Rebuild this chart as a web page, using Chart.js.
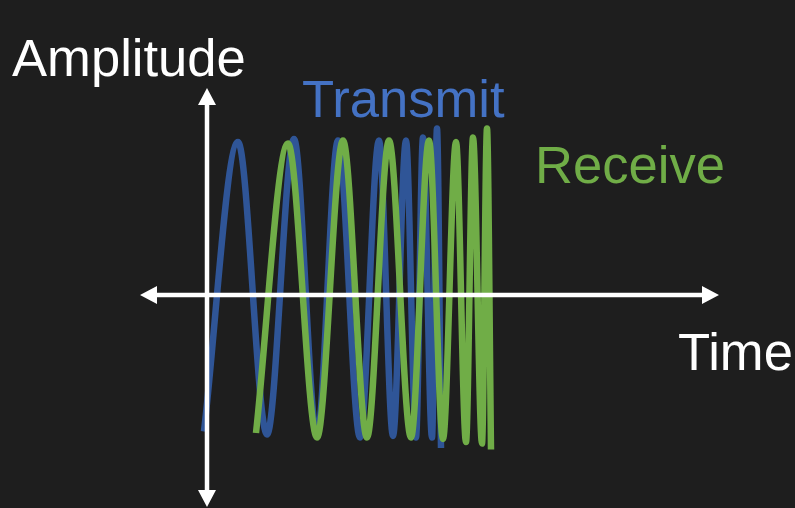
<!DOCTYPE html>
<html>
<head>
<meta charset="utf-8">
<script src="https://cdn.jsdelivr.net/npm/chart.js@4/dist/chart.umd.min.js"></script>
<style>
  html, body { margin: 0; padding: 0; background: #1e1e1e; }
  #wrap { width: 795px; height: 508px; position: relative; }
  canvas { display: block; }
</style>
</head>
<body>
<div id="wrap"><canvas id="c" width="795" height="508"></canvas></div>
<script>
// ---- Data (time in arbitrary units, amplitude normalised) ----
const transmitTime = [-0.3, 3.1, 6.0, 8.7, 11.0, 13.1, 15.3, 17.2, 18.6, 19.9, 20.9, 21.6, 22.5, 23.0, 23.4];
const transmitAmp  = [-0.91, 1.02, -0.93, 1.04, -0.94, 1.03, -0.95, 1.03, -0.94, 1.03, -0.95, 1.05, -0.95, 1.11, -1.02];

const receiveTime = [4.9, 8.1, 11.0, 13.6, 16.0, 18.2, 20.4, 22.2, 23.6, 24.9, 25.9, 26.6, 27.5, 28.0, 28.4];
const receiveAmp  = [-0.92, 1.01, -0.95, 1.03, -0.95, 1.03, -0.95, 1.03, -0.96, 1.02, -0.98, 1.05, -0.99, 1.11, -1.03];

// axis extents (data units)
const timeAxisRange = [-6.7, 51.2];
const ampAxisRange  = [-1.413, 1.38];

// labels
const labels = [
  { text: 'Amplitude', t: -19.5, a: 1.46,  color: '#ffffff' },
  { text: 'Transmit',  t: 9.5,   a: 1.187, color: '#4472c4' },
  { text: 'Receive',   t: 32.8,  a: 0.747, color: '#70ad47' },
  { text: 'Time',      t: 47.1,  a: -0.5,  color: '#ffffff' }
];

const toPts = (xs, ys) => xs.map((x, i) => ({ x: x, y: ys[i] }));

const axesPlugin = {
  id: 'axesArrows',
  afterDatasetsDraw(chart) {
    const ctx = chart.ctx;
    const xs = chart.scales.x, ys = chart.scales.y;
    const y0 = ys.getPixelForValue(0);
    const x0 = xs.getPixelForValue(0);
    const xl = xs.getPixelForValue(timeAxisRange[0]);
    const xr = xs.getPixelForValue(timeAxisRange[1]);
    const yt = ys.getPixelForValue(ampAxisRange[1]);
    const yb = ys.getPixelForValue(ampAxisRange[0]);
    const L = 17, H = 9;
    ctx.save();
    ctx.strokeStyle = '#ffffff';
    ctx.fillStyle = '#ffffff';
    ctx.lineWidth = 4.5;
    ctx.beginPath();
    ctx.moveTo(xl + L - 2, y0); ctx.lineTo(xr - L + 2, y0);
    ctx.moveTo(x0, yt + L - 2); ctx.lineTo(x0, yb - L + 2);
    ctx.stroke();
    // arrow heads
    ctx.beginPath();
    ctx.moveTo(xl, y0); ctx.lineTo(xl + L, y0 - H); ctx.lineTo(xl + L, y0 + H); ctx.closePath();
    ctx.moveTo(xr, y0); ctx.lineTo(xr - L, y0 - H); ctx.lineTo(xr - L, y0 + H); ctx.closePath();
    ctx.moveTo(x0, yt); ctx.lineTo(x0 - H, yt + L); ctx.lineTo(x0 + H, yt + L); ctx.closePath();
    ctx.moveTo(x0, yb); ctx.lineTo(x0 - H, yb - L); ctx.lineTo(x0 + H, yb - L); ctx.closePath();
    ctx.fill();
    // text labels
    ctx.font = '52.6px "Liberation Sans", Arial, sans-serif';
    ctx.textBaseline = 'alphabetic';
    ctx.textAlign = 'left';
    labels.forEach(l => {
      ctx.fillStyle = l.color;
      ctx.fillText(l.text, xs.getPixelForValue(l.t), ys.getPixelForValue(l.a));
    });
    ctx.restore();
  }
};

new Chart(document.getElementById('c'), {
  type: 'line',
  data: {
    datasets: [
      {
        label: 'Receive',
        data: toPts(receiveTime, receiveAmp),
        borderColor: '#70ad47',
        borderWidth: 6.5,
        pointRadius: 0,
        cubicInterpolationMode: 'monotone',
        borderCapStyle: 'butt',
        order: 0
      },
      {
        label: 'Transmit',
        data: toPts(transmitTime, transmitAmp),
        borderColor: '#2f5597',
        borderWidth: 6.5,
        pointRadius: 0,
        cubicInterpolationMode: 'monotone',
        borderCapStyle: 'butt',
        order: 1
      }
    ]
  },
  options: {
    responsive: false,
    animation: false,
    devicePixelRatio: 1,
    layout: { padding: 0 },
    plugins: { legend: { display: false }, tooltip: { enabled: false }, title: { display: false } },
    scales: {
      x: { type: 'linear', display: false, min: -20.7, max: 58.8 },
      y: { type: 'linear', display: false, min: -1.42, max: 1.9667 }
    }
  },
  plugins: [axesPlugin]
});
</script>
</body>
</html>
